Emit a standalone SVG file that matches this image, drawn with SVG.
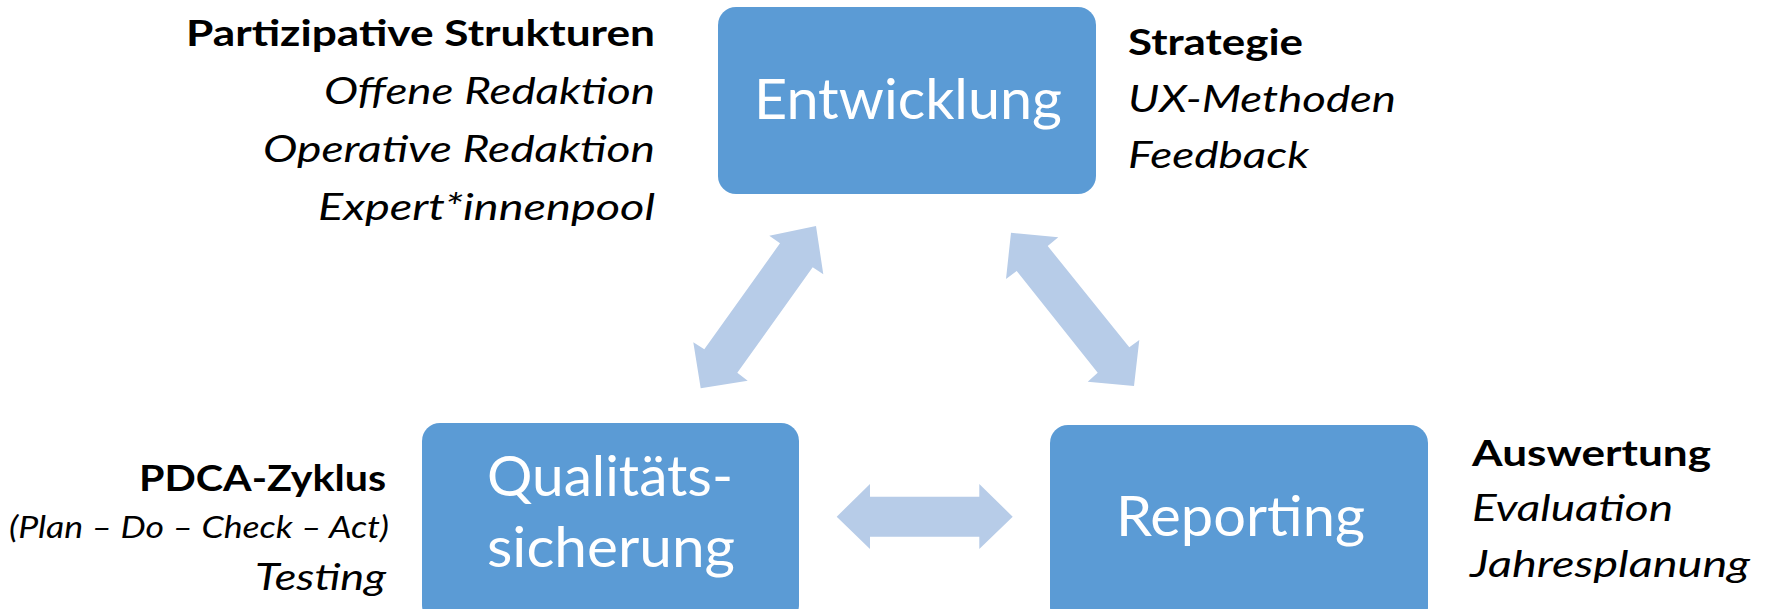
<svg xmlns="http://www.w3.org/2000/svg" width="1769" height="609" viewBox="0 0 1769 609">
<style>
.box{fill:#5B9BD5;}
.bt{fill:#FFFFFF;font-family:Lato,"Open Sans",sans-serif;font-size:57px;}
.arr{fill:#B7CCE8;}
.lb{fill:#000000;font-family:Lato,"Open Sans",sans-serif;font-size:37px;font-weight:bold;}
.li{fill:#000000;font-family:Lato,"Open Sans",sans-serif;font-size:37px;font-style:italic;}
.ls{fill:#000000;font-family:Lato,"Open Sans",sans-serif;font-size:31px;font-style:italic;}
</style>
<rect width="1769" height="609" fill="#FFFFFF"/>
<g id="connectors">
<polygon class="arr" points="816,226 823.3,274.3 812.7,267.3 737.3,372.7 747.7,380.7 700.7,388.3 693.3,342.3 704.3,349.3 780,243.3 769.3,235.7"/>
<polygon class="arr" points="1011,232.7 1058.3,237.3 1047.7,246 1129.3,347.3 1139.3,340 1134,386 1087.7,381.7 1097.7,372.7 1016.7,271 1006,279"/>
<polygon class="arr" points="836.7,516.7 870,484 870,496.7 979.3,496.7 979.3,484 1012.7,516.7 979.3,549 979.3,536.7 870,536.7 870,549"/>
</g>
<g id="node-entwicklung">
<rect class="box" x="718" y="7" width="378" height="187" rx="18" ry="18"/>
<text class="bt" x="754" y="119" textLength="308" lengthAdjust="spacingAndGlyphs">Entwicklung</text>
</g>
<g id="node-qualitaet">
<rect class="box" x="422" y="423" width="377" height="200" rx="18" ry="18"/>
<text class="bt" x="487" y="496" textLength="246" lengthAdjust="spacingAndGlyphs">Qualitäts-</text>
<text class="bt" x="487" y="567" textLength="248" lengthAdjust="spacingAndGlyphs">sicherung</text>
</g>
<g id="node-reporting">
<rect class="box" x="1050" y="425" width="378" height="200" rx="18" ry="18"/>
<text class="bt" x="1116" y="536" textLength="249" lengthAdjust="spacingAndGlyphs">Reporting</text>
</g>
<g id="label-partizipative" text-anchor="end">
<text class="lb" x="655" y="46" textLength="469" lengthAdjust="spacingAndGlyphs">Partizipative Strukturen</text>
<text class="li" x="655" y="104" textLength="331" lengthAdjust="spacingAndGlyphs">Offene Redaktion</text>
<text class="li" x="655" y="162" textLength="392" lengthAdjust="spacingAndGlyphs">Operative Redaktion</text>
<text class="li" x="655" y="220" textLength="337" lengthAdjust="spacingAndGlyphs">Expert*innenpool</text>
</g>
<g id="label-strategie">
<text class="lb" x="1128" y="55" textLength="175" lengthAdjust="spacingAndGlyphs">Strategie</text>
<text class="li" x="1128" y="112" textLength="268" lengthAdjust="spacingAndGlyphs">UX-Methoden</text>
<text class="li" x="1128" y="168" textLength="181" lengthAdjust="spacingAndGlyphs">Feedback</text>
</g>
<g id="label-pdca" text-anchor="end">
<text class="lb" x="386" y="491" textLength="247" lengthAdjust="spacingAndGlyphs">PDCA-Zyklus</text>
<text class="ls" x="389" y="538" textLength="380" lengthAdjust="spacingAndGlyphs">(Plan – Do – Check – Act)</text>
<text class="li" x="386" y="590" textLength="131" lengthAdjust="spacingAndGlyphs">Testing</text>
</g>
<g id="label-auswertung">
<text class="lb" x="1472" y="466" textLength="239" lengthAdjust="spacingAndGlyphs">Auswertung</text>
<text class="li" x="1472" y="521" textLength="201" lengthAdjust="spacingAndGlyphs">Evaluation</text>
<text class="li" x="1470" y="577" textLength="280" lengthAdjust="spacingAndGlyphs">Jahresplanung</text>
</g>
</svg>
